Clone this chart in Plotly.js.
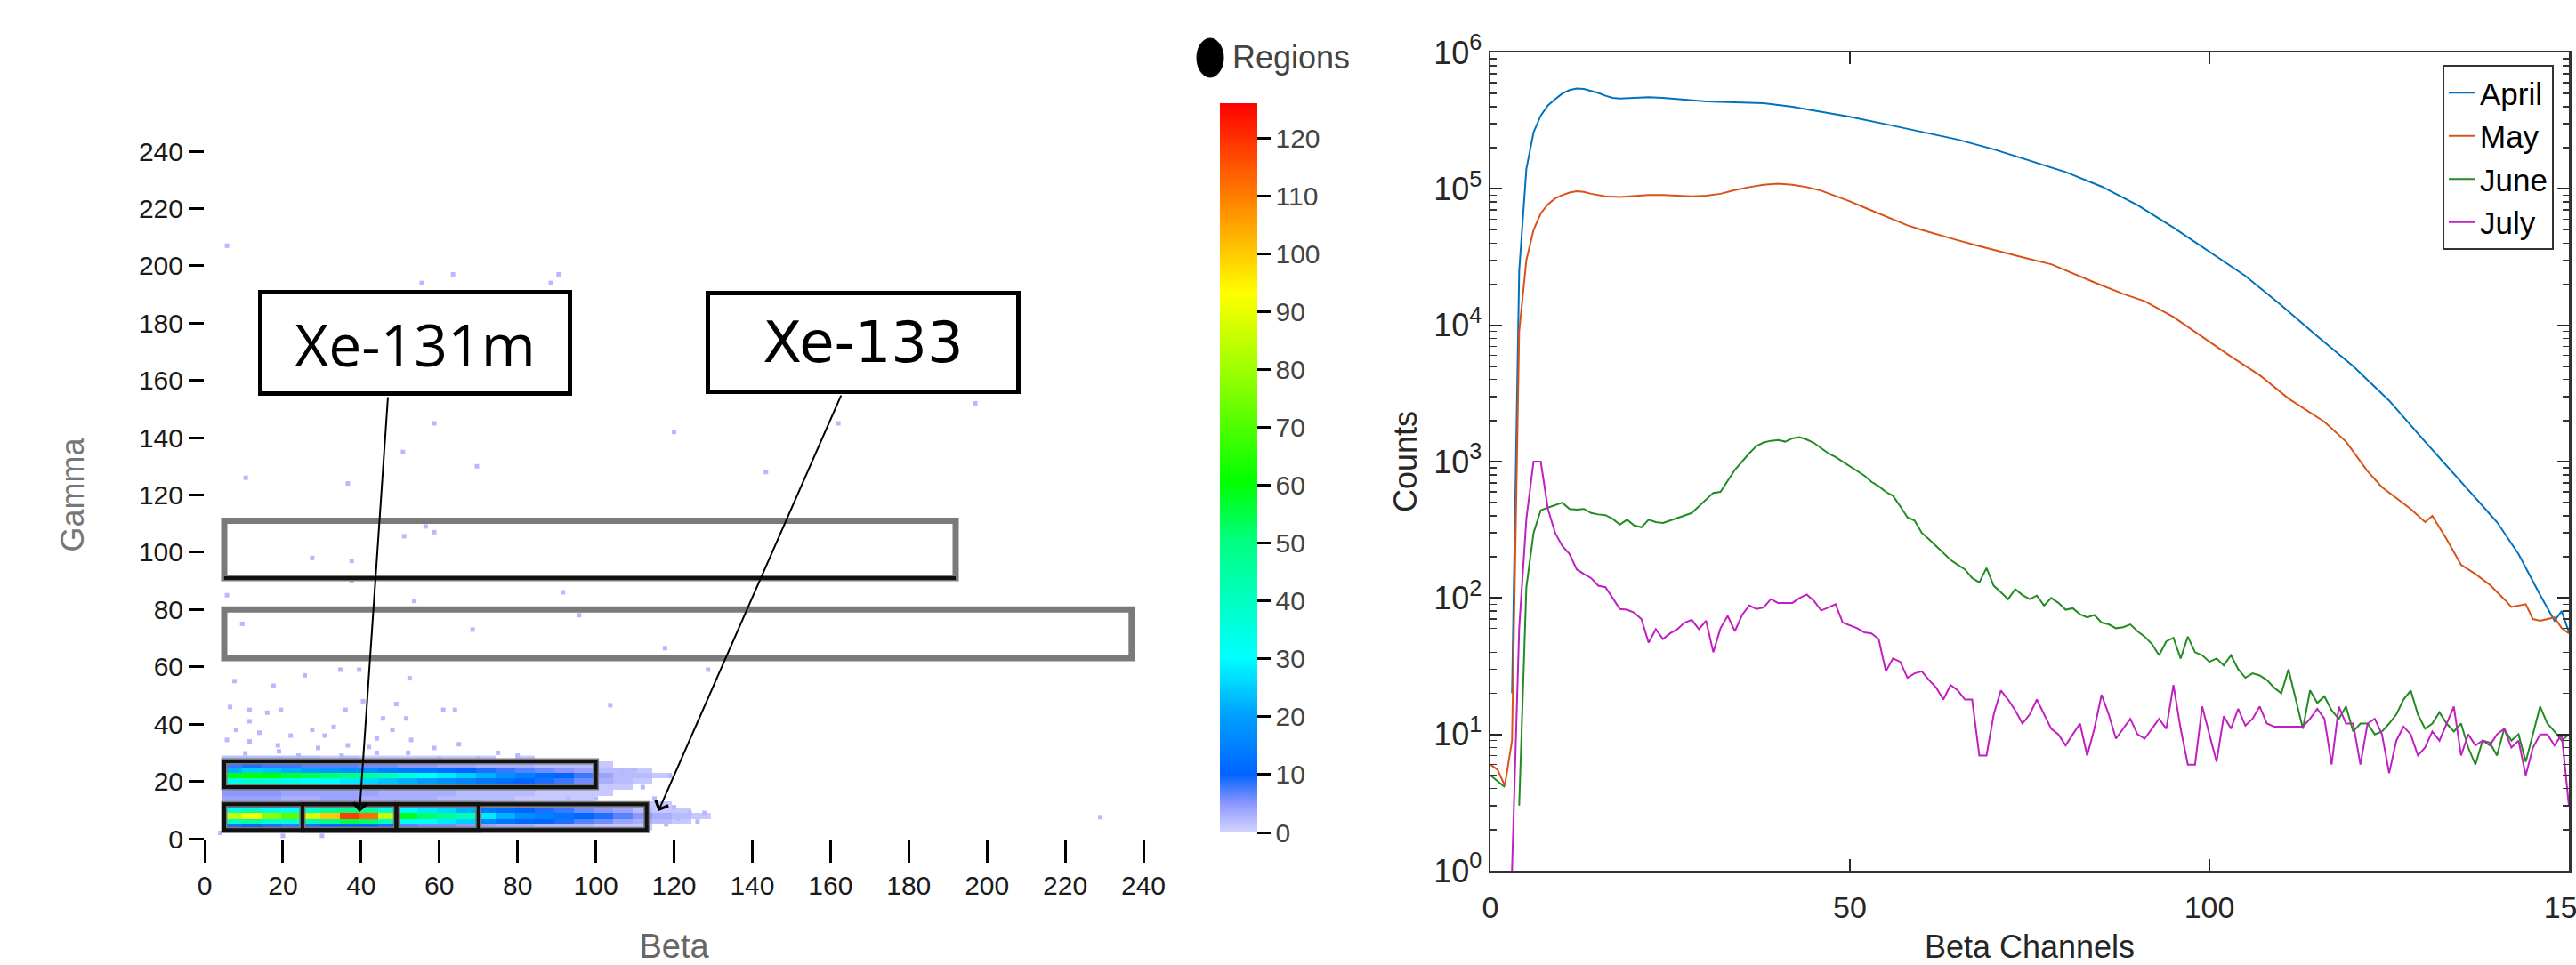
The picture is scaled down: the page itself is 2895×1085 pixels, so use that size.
<!DOCTYPE html>
<html>
<head>
<meta charset="utf-8">
<script src="https://cdn.plot.ly/plotly-3.0.1.min.js"></script>
<style>
html,body{margin:0;padding:0;background:#ffffff;}
#chart{width:2895px;height:1085px;}
</style>
</head>
<body>
<div id="chart"></div>
<script>
// ---------------- LEFT PANEL DATA (beta-gamma coincidence histogram) ----------------
const betaCenters = [7,12,17,22,27,32,37,42,47,52,57,62,67,72,77,82,87,92,97,102,107,112,117,122,127];
const gammaRows   = [4,6,8,10,12,14,16,18,20,22,24,26,28];
const countsG04 = [9,10,9,8,9,10,11,10,9,7,6,6,5,4,3,3,2,2,2,1,1,1,0,0,0];
const countsG06 = [40,45,38,36,42,48,55,52,40,32,30,28,25,16,13,11,10,9,7,6,4,3,2,1,0];
const countsG08 = [85,92,78,72,88,100,118,112,85,58,52,48,42,28,22,17,15,13,11,9,7,5,3,2,1];
const countsG10 = [35,40,34,32,38,45,50,47,36,30,28,26,22,14,12,10,9,8,6,5,4,2,1,1,0];
const countsG12 = [10,12,10,9,10,12,13,12,10,8,7,7,6,5,4,4,3,3,2,2,1,1,1,0,0];
const countsG14 = [4,4,4,3,3,4,4,3,3,3,3,2,2,2,2,1,1,1,1,0,0,0,0,0,0];
const countsG16 = [5,5,5,4,4,4,4,4,3,3,3,3,2,2,2,2,1,1,1,1,0,0,0,0,0];
const countsG18 = [14,15,14,13,12,12,11,10,9,8,8,7,6,5,5,4,4,3,3,1,1,0,0,0,0];
const countsG20 = [35,38,36,34,32,30,28,26,24,22,20,18,16,14,12,10,9,8,6,3,2,1,0,0,0];
const countsG22 = [58,62,60,56,54,52,50,46,42,36,32,28,25,22,18,15,12,10,8,4,2,2,1,0,0];
const countsG24 = [22,25,24,22,20,19,18,17,15,14,13,12,10,9,8,7,6,5,4,2,2,1,0,0,0];
const countsG26 = [8,9,8,8,7,7,7,6,6,5,5,4,4,3,3,3,2,2,2,1,0,0,0,0,0];
const countsG28 = [2,2,2,2,2,1,2,1,1,1,1,1,1,1,0,1,0,0,0,0,0,0,0,0,0];

// sparse single-count events
const sparseBeta  = [5.7,63.5,55.5,90.5,88.5,58.7,50.7,69.6,10.5,36.6,120,143.5,162,197,229,56.5,51,58.7,27.5,37.6,37.6,5.7,91.6,53.6,95.7,9.6,68.5,117.7,128.7,34.7,39.5,25.6,7.6,17.6,52.4,103.7,6.5,11.5,16,19.5,36,40.5,49,61,64,45.6,51.5,11.5,27.5,30.7,5.7,11.5,18.7,29,36.6,42,52.8,58.7,65,75,52,10.4,19,107,110,119,124,127.8,93,8,14,22,33,44,48,24,35,44,60,70,80,85,105,112,115,100,120,118,121,126,4,20,30];
const sparseGamma = [207,197,194,197,194,145,135,130,126,124,142,128,145,152,7.5,109,105.6,107,98,97,90,85,86,83,78,75,73,66.5,59,59,59,57,55,53.4,56,46.6,46,45,44,45,45,48,47,45,45,42,42,41,38,36,34.5,34,32.6,31.7,32.6,32,34.5,31.7,33,30,30,29.8,30.5,23,24,22,9,9,14,38,37,36,39,35,38,29,29,30,28,28,29,27,20,18,14,14,11,5,7,6,2,1,1];

// analysis regions (beta / gamma limits)
const regionBetaMin  = [5, 25, 49, 5, 5, 5];
const regionBetaMax  = [113, 49, 70, 100, 237, 192];
const regionGammaMin = [3, 3, 3, 18, 63, 91];
const regionGammaMax = [12, 12, 12, 27, 80, 111];

// isotope labels and the points they mark
const isotopeLabels = ['Xe-131m', 'Xe-133'];
const isotopeBeta   = [39.6, 116];
const isotopeGamma  = [9.3, 9.6];

const colorbarTicks = [0,10,20,30,40,50,60,70,80,90,100,110,120];

// ---------------- RIGHT PANEL DATA (beta spectra) ----------------
const monthNames = ['April', 'May', 'June', 'July'];
const aprilCh = [3,4,5,6,7,8,9,10,11,12,13,14,15,16,17,18,20,22,24,26,28,30,32,34,36,38,40,42,45,50,55,60,65,70,75,80,85,90,95,100,105,110,115,120,125,130,133,137,140,143,146,148,149,150];
const aprilCounts = [20,25000,140000,260000,345000,410000,455000,500000,530000,545000,540000,525000,505000,482000,465000,460000,465000,470000,465000,455000,445000,438000,435000,432000,430000,425000,412000,400000,375000,338000,298000,262000,230000,195000,162000,133000,104000,76000,52000,34500,23000,14000,8300,5000,2800,1400,930,540,360,210,105,68,80,56];
const mayCh = [0,1,2,3,4,5,6,7,8,9,10,11,12,13,14,16,18,20,22,24,26,28,30,32,34,36,38,40,42,44,46,48,50,52,54,56,58,60,62,65,68,71,74,78,81,84,88,91,95,99,103,107,111,116,119,122,124,126,128,130,131,133,135,137,139,141,142,144,145,146,148,149,150];
const mayCounts = [6,5.5,4.2,9,9000,30000,50000,66000,77000,85000,90000,94000,96000,95000,92000,88000,87000,88000,90000,90000,89000,88000,89000,92000,98000,103000,107000,109000,107000,103000,97000,89000,81000,73000,66000,60000,54000,50000,46500,42000,38000,34500,31500,28000,24000,20600,17000,15000,11500,8200,5900,4300,2900,1960,1400,850,650,540,450,360,400,270,175,150,125,98,86,90,70,68,72,60,55];
// June and July: one value per channel, starting at channel 0
const juneCounts = [
 5,4.5,4.1,null,3,120,300,440,460,480,
 500,450,445,450,420,410,405,380,345,375,
 340,330,375,360,355,370,385,400,420,470,
 530,590,600,720,870,1000,1150,1300,1380,1420,
 1440,1400,1480,1510,1450,1370,1250,1150,1080,1000,
 930,860,790,710,660,600,560,470,390,370,
 300,270,240,214,190,175,162,140,130,166,
 123,110,98,116,105,98,104,88,100,92,
 82,84,76,72,75,66,64,60,61,64,
 57,52,46,38,48,51,36,52,40,38,
 34,36,32,38,30,26,28,27,25,22,
 20,30,18,11,21,17,19,15,13,16,
 10.5,12,12,10,10.5,12,14,18,21,14,
 11,12,14.5,12,10.5,12,8,6,9,8.7,
 7,11,9,10,6.3,10,16,12,10.5,9,
 10];
const julyCounts = [
 null,null,null,1,60,380,1000,1000,450,300,
 240,210,162,150,140,123,120,100,83,82,
 78,70,47,59,50,55,59,66,69,59,
 68,40,60,74,57,75,88,83,85,98,
 92,92,92,100,106,95,81,85,90,66,
 63,60,56,55,50,29,36,34,26,28,
 29,25,22,18,23,21,18,18,7,7,
 14,21,18,15,12,14,18,14,11,10,
 8.3,10,12,7,11,19.5,14,9.3,11,13,
 10,9.3,11,13,11,23,11,6,6,16,
 10,6.3,13.6,11,15.4,11.6,13,16,12,11.4,
 11.4,11.4,11.4,11.4,13,15.4,13,6,16,12,
 12,6,12,13,10,5.2,9,11.4,10,7,
 8,10.5,9,12,16,7,10,8.3,9,8.3,
 10,11,8,9,5,8,10,10,8.3,10,
 3];
const countTickVals = [1,10,100,1000,10000,100000,1000000];
const countTickText = ['10<sup>0</sup>','10<sup>1</sup>','10<sup>2</sup>','10<sup>3</sup>','10<sup>4</sup>','10<sup>5</sup>','10<sup>6</sup>'];
const betaChannelTicks = [0,50,100,150];

// ---------------- STYLE ----------------
const SANS  = "'Liberation Sans', Arial, sans-serif";
const monthColors = ['#0072BD', '#D95319', '#228B22', '#C020C0'];

const hmColorscale = [
  [0.00,'#d4d4ff'],[0.04,'#8c96ff'],[0.08,'#0064ff'],[0.16,'#00a0ff'],
  [0.24,'#00ffff'],[0.40,'#00ff80'],[0.48,'#00ff00'],[0.63,'#99ff00'],
  [0.74,'#ffff00'],[0.87,'#ff8000'],[1.00,'#ff0000']
];

const zRows = [countsG04,countsG06,countsG08,countsG10,countsG12,countsG14,countsG16,
               countsG18,countsG20,countsG22,countsG24,countsG26,countsG28]
  .map(r => r.map(v => v > 0 ? v : null));

const traces = [
  {
    type: 'heatmap', x: betaCenters, y: gammaRows, z: zRows,
    xaxis: 'x', yaxis: 'y',
    zmin: 0, zmax: 126, colorscale: hmColorscale, showscale: true,
    hoverongaps: false, showlegend: false,
    colorbar: {
      x: 1371/2895, xanchor: 'left', xpad: 0,
      y: 1 - 526/1085, yanchor: 'middle', ypad: 0,
      thickness: 42, thicknessmode: 'pixels',
      len: 820, lenmode: 'pixels',
      outlinewidth: 0,
      tickmode: 'array', tickvals: colorbarTicks,
      ticks: 'outside', ticklen: 15, tickwidth: 3, tickcolor: '#000',
      tickfont: {family: SANS, size: 30, color: '#444'}
    }
  },
  {
    type: 'scatter', mode: 'markers', x: sparseBeta, y: sparseGamma,
    xaxis: 'x', yaxis: 'y', showlegend: false,
    marker: {symbol: 'square', size: 5, color: '#b8b8ff', line: {width: 0}}
  },
  {
    type: 'scatter', mode: 'lines', name: monthNames[0], x: aprilCh, y: aprilCounts,
    xaxis: 'x2', yaxis: 'y2', line: {color: monthColors[0], width: 2}
  },
  {
    type: 'scatter', mode: 'lines', name: monthNames[1], x: mayCh, y: mayCounts,
    xaxis: 'x2', yaxis: 'y2', line: {color: monthColors[1], width: 2}
  },
  {
    type: 'scatter', mode: 'lines', name: monthNames[2], x0: 0, dx: 1, y: juneCounts,
    xaxis: 'x2', yaxis: 'y2', line: {color: monthColors[2], width: 2}, connectgaps: false
  },
  {
    type: 'scatter', mode: 'lines', name: monthNames[3], x0: 0, dx: 1, y: julyCounts,
    xaxis: 'x2', yaxis: 'y2', line: {color: monthColors[3], width: 2}, connectgaps: false
  }
];

// region boxes
const shapes = [];
for (let i = 0; i < regionBetaMin.length; i++) {
  shapes.push({
    type: 'rect', xref: 'x', yref: 'y', layer: 'above',
    x0: regionBetaMin[i], x1: regionBetaMax[i], y0: regionGammaMin[i], y1: regionGammaMax[i],
    line: {color: '#7a7a7a', width: 7}, fillcolor: 'rgba(0,0,0,0)'
  });
}
for (let i = 0; i < 4; i++) {
  shapes.push({
    type: 'rect', xref: 'x', yref: 'y', layer: 'above',
    x0: regionBetaMin[i], x1: regionBetaMax[i], y0: regionGammaMin[i], y1: regionGammaMax[i],
    line: {color: '#111', width: 4}, fillcolor: 'rgba(0,0,0,0)'
  });
}
shapes.push({
  type: 'line', xref: 'x', yref: 'y', layer: 'above',
  x0: regionBetaMin[5], x1: regionBetaMax[5], y0: regionGammaMin[5], y1: regionGammaMin[5],
  line: {color: '#111', width: 4}
});
// "Regions" marker
shapes.push({
  type: 'circle', xref: 'paper', yref: 'paper',
  x0: 1345/2895, x1: 1375/2895, y0: 1 - 87/1085, y1: 1 - 43/1085,
  fillcolor: '#000', line: {color: '#000', width: 1}
});

const annotations = [
  {
    xref: 'paper', yref: 'paper', x: 466/2895, y: 1 - 385/1085,
    xanchor: 'center', yanchor: 'middle', showarrow: false,
    text: isotopeLabels[0], font: {family: "'Open Sans', sans-serif", size: 66, color: '#000'},
    bgcolor: '#fff', bordercolor: '#000', borderwidth: 5, borderpad: 0, width: 343, height: 109
  },
  {
    xref: 'paper', yref: 'paper', x: 970/2895, y: 1 - 385/1085,
    xanchor: 'center', yanchor: 'middle', showarrow: false,
    text: isotopeLabels[1], font: {family: "'DejaVu Sans', sans-serif", size: 64, color: '#000'},
    bgcolor: '#fff', bordercolor: '#000', borderwidth: 5, borderpad: 0, width: 344, height: 106
  },
  {
    xref: 'x', yref: 'y', x: isotopeBeta[0], y: isotopeGamma[0], text: '',
    showarrow: true, ax: 32, ay: -468, arrowhead: 4, arrowsize: 1.5, arrowwidth: 2, arrowcolor: '#000'
  },
  {
    xref: 'x', yref: 'y', x: isotopeBeta[1], y: isotopeGamma[1], text: '',
    showarrow: true, ax: 206, ay: -469, arrowhead: 4, arrowsize: 1.5, arrowwidth: 2, arrowcolor: '#000'
  },
  {
    xref: 'paper', yref: 'paper', x: 1383/2895, y: 1 - 65/1085,
    xanchor: 'left', yanchor: 'middle', showarrow: false,
    text: 'Regions', font: {family: SANS, size: 36, color: '#444'}
  }
];

const layout = {
  width: 2895, height: 1085,
  margin: {l: 0, r: 0, t: 0, b: 0},
  paper_bgcolor: '#ffffff', plot_bgcolor: '#ffffff',
  showlegend: true,
  xaxis: {
    domain: [230/2895, 1285/2895], anchor: 'y', range: [0, 240],
    tickmode: 'linear', tick0: 0, dtick: 20,
    ticks: 'outside', ticklen: 26, tickwidth: 3, tickcolor: '#000',
    showgrid: false, zeroline: false, showline: false,
    tickfont: {family: SANS, size: 30, color: '#1a1a1a'},
    title: {text: 'Beta', font: {family: SANS, size: 38, color: '#666'}, standoff: 44},
    fixedrange: true
  },
  yaxis: {
    domain: [1 - 943/1085, 1 - 170/1085], anchor: 'x', range: [0, 240],
    tickmode: 'linear', tick0: 0, dtick: 20,
    ticks: 'outside', ticklen: 17, tickwidth: 3, tickcolor: '#000',
    showgrid: false, zeroline: false, showline: false,
    tickfont: {family: SANS, size: 30, color: '#1a1a1a'},
    title: {text: 'Gamma', font: {family: SANS, size: 36, color: '#777'}, standoff: 50},
    fixedrange: true
  },
  xaxis2: {
    domain: [1675/2895, 2887/2895], anchor: 'y2', range: [0, 150],
    tickmode: 'array', tickvals: betaChannelTicks,
    ticks: 'inside', ticklen: 13, tickwidth: 2, tickcolor: '#262626',
    mirror: 'ticks', showline: true, linewidth: 2.5, linecolor: '#333',
    showgrid: false, zeroline: false,
    tickfont: {family: SANS, size: 34, color: '#262626'},
    ticklabelstandoff: 10, ticklabeloverflow: 'allow',
    title: {text: 'Beta Channels', font: {family: SANS, size: 36, color: '#262626'}, standoff: 16}
  },
  yaxis2: {
    domain: [1 - 979/1085, 1 - 59/1085], anchor: 'x2', type: 'log', range: [0, 6],
    tickmode: 'array', tickvals: countTickVals, ticktext: countTickText,
    ticks: 'inside', ticklen: 13, tickwidth: 2, tickcolor: '#262626',
    minor: {ticks: 'inside', ticklen: 7, tickwidth: 1.5, tickcolor: '#333', dtick: 'D1', showgrid: false},
    mirror: 'ticks', showline: true, linewidth: 2.5, linecolor: '#333',
    showgrid: false, zeroline: false,
    tickfont: {family: SANS, size: 36, color: '#262626'},
    title: {text: 'Counts', font: {family: SANS, size: 36, color: '#262626'}, standoff: 8}
  },
  legend: {
    x: 2745/2895, y: 1 - 73/1085, xanchor: 'left', yanchor: 'top',
    bgcolor: '#ffffff', bordercolor: '#333', borderwidth: 2,
    font: {family: SANS, size: 35, color: '#000'},
    itemwidth: 30, tracegroupgap: 0
  },
  shapes: shapes,
  annotations: annotations
};

Plotly.newPlot('chart', traces, layout, {displayModeBar: false, staticPlot: true});
</script>
</body>
</html>
